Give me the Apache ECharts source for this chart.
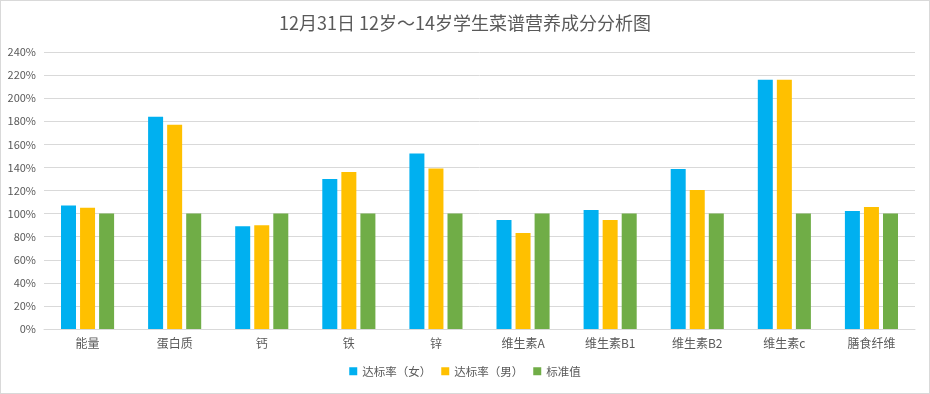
<!DOCTYPE html>
<html><head><meta charset="utf-8">
<script src="https://cdn.jsdelivr.net/npm/echarts@6/dist/echarts.min.js"></script>
<style>
html,body{margin:0;padding:0;background:#fff;}
#c{width:928px;height:392px;border:1px solid #D9D9D9;}
</style></head>
<body><div id="c"></div>
<script>
const categories = ['能量','蛋白质','钙','铁','锌','维生素A','维生素B1','维生素B2','维生素c','膳食纤维'];
const female = [107, 184, 89, 130, 152, 94.5, 103, 138.6, 216, 102.3];
const male = [105, 177, 90, 136, 139, 83.2, 94.5, 120.5, 216, 105.7];
const standard = [100, 100, 100, 100, 100, 100, 100, 100, 100, 100];
const seriesNames = ['达标率（女）','达标率（男）','标准值'];
const colors = ['#00B0F0','#FFC000','#70AD47'];
const font = '"Noto Sans CJK SC", "Noto Sans", sans-serif';
const chart = echarts.init(document.getElementById('c'));
chart.setOption({
  animation:false,
  textStyle:{fontFamily:font},
  title:{text:'12月31日 12岁～14岁学生菜谱营养成分分析图', left:'center', top:8,
    textStyle:{fontSize:18, fontWeight:'normal', color:'#595959', fontFamily:font}},
  legend:{bottom:11, left:'center', itemWidth:8, itemHeight:8, itemGap:10, icon:'rect',
    textStyle:{fontSize:11.5, color:'#595959', fontFamily:font}, data:seriesNames},
  grid:{left:43, right:14, top:51, bottom:64, containLabel:false},
  xAxis:{type:'category', data:categories,
    axisLine:{lineStyle:{color:'#D9D9D9'}}, axisTick:{show:false},
    axisLabel:{color:'#595959', fontSize:12, margin:8, fontFamily:font}},
  yAxis:{type:'value', min:0, max:240, interval:20,
    axisLine:{show:false}, axisTick:{show:false},
    axisLabel:{formatter:'{value}%', color:'#595959', fontSize:11, margin:8, fontFamily:font},
    splitLine:{lineStyle:{color:'#D9D9D9'}}},
  series:[
    {name:seriesNames[0], type:'bar', data:female, itemStyle:{color:colors[0]}, barWidth:15, barGap:'27%'},
    {name:seriesNames[1], type:'bar', data:male, itemStyle:{color:colors[1]}, barWidth:15, barGap:'27%'},
    {name:seriesNames[2], type:'bar', data:standard, itemStyle:{color:colors[2]}, barWidth:15, barGap:'27%'}
  ]
});
</script></body></html>
